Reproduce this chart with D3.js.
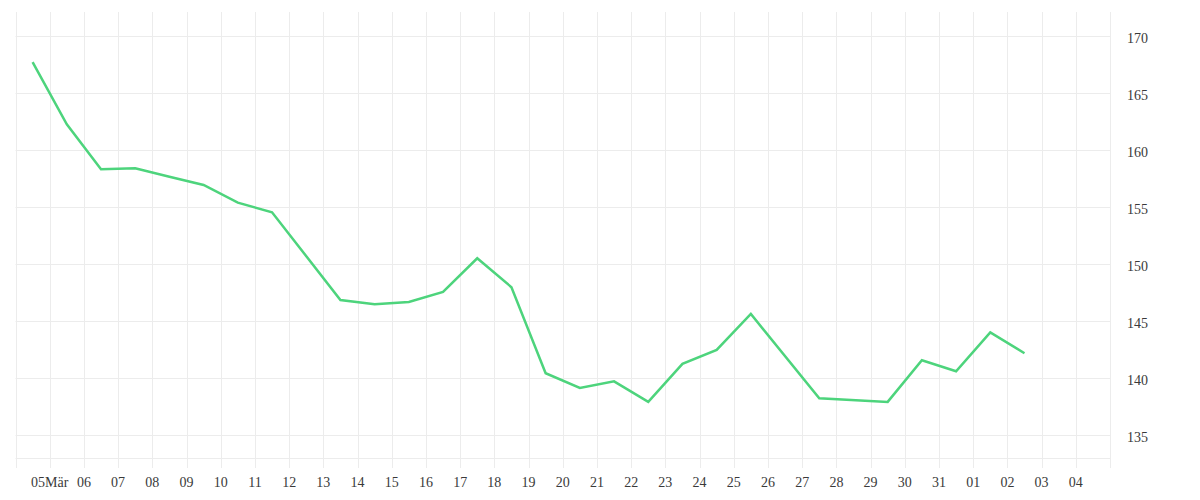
<!DOCTYPE html>
<html>
<head>
<meta charset="utf-8">
<script src="https://cdn.jsdelivr.net/npm/d3@7"></script>
<style>
  html, body { margin: 0; padding: 0; background: #fff; }
  svg { display: block; }
</style>
</head>
<body>
<svg id="chart" width="1200" height="500"></svg>
<script>
// ---- data ----
const dates = [
  "2024-03-04","2024-03-05","2024-03-06","2024-03-07","2024-03-08","2024-03-09",
  "2024-03-10","2024-03-11","2024-03-13","2024-03-14","2024-03-15",
  "2024-03-16","2024-03-17","2024-03-18","2024-03-19","2024-03-20","2024-03-21",
  "2024-03-22","2024-03-23","2024-03-24","2024-03-25","2024-03-27",
  "2024-03-29","2024-03-30","2024-03-31","2024-04-01","2024-04-02"
];
const values = [
  167.7, 162.25, 158.3, 158.4, 157.65, 156.93,
  155.38, 154.53, 146.84, 146.46, 146.67,
  147.54, 150.5, 147.96, 140.41, 139.12, 139.7,
  137.9, 141.23, 142.46, 145.61, 138.22,
  137.9, 141.55, 140.59, 144.0, 142.17
];
const yTickValues = [135, 140, 145, 150, 155, 160, 165, 170];
const yExtraGrid = [133];
const xStart = "2024-03-04";
const xEnd = "2024-04-05";
const yDomain = [132.1, 172.1];

(function () {
  const FONT = "'Liberation Serif', 'Times New Roman', Times, serif";
  const svg = d3.select("#chart");
  const mLeft = 15.5, mRight = 1110, mTop = 12, mBottom = 468;

  const parse = d3.utcParse("%Y-%m-%d");
  const data = dates.map((d, i) => ({ date: d3.utcHour.offset(parse(d), 12), value: values[i] }));

  const x = d3.scaleUtc().domain([parse(xStart), parse(xEnd)]).range([mLeft, mRight]);
  const y = d3.scaleLinear().domain(yDomain).range([mBottom, mTop]);

  const days = d3.utcDay.range(parse(xStart), d3.utcDay.offset(parse(xEnd), 1));

  // vertical grid
  svg.append("g").selectAll("line").data(days).join("line")
    .attr("x1", d => Math.round(x(d)) + 0.5).attr("x2", d => Math.round(x(d)) + 0.5)
    .attr("y1", mTop).attr("y2", mBottom)
    .attr("stroke", "#ececec").attr("stroke-width", 1);

  // horizontal grid
  svg.append("g").selectAll("line").data(yTickValues.concat(yExtraGrid)).join("line")
    .attr("x1", mLeft).attr("x2", mRight)
    .attr("y1", d => Math.round(y(d)) + 0.5).attr("y2", d => Math.round(y(d)) + 0.5)
    .attr("stroke", "#ececec").attr("stroke-width", 1);

  // x labels (skip first day at the left edge and the closing edge)
  const labelDays = days.slice(1, days.length - 1);
  const fmtDay = d3.utcFormat("%d");
  svg.append("g").selectAll("text").data(labelDays).join("text")
    .attr("x", d => x(d))
    .attr("y", 487)
    .attr("text-anchor", "middle")
    .attr("font-family", FONT).attr("font-size", 14).attr("fill", "#3a3a3a")
    .text((d, i) => i === 0 ? fmtDay(d) + "Mär" : fmtDay(d));

  // y labels on the right
  svg.append("g").selectAll("text").data(yTickValues).join("text")
    .attr("x", 1127)
    .attr("y", d => y(d) + 2)
    .attr("dy", "0.35em")
    .attr("text-anchor", "start")
    .attr("font-family", FONT).attr("font-size", 14).attr("fill", "#3a3a3a")
    .text(d => d);

  // line
  const line = d3.line().x(d => x(d.date)).y(d => y(d.value));
  svg.append("path").datum(data)
    .attr("d", line)
    .attr("fill", "none")
    .attr("stroke", "#4dd47c")
    .attr("stroke-width", 2.5)
    .attr("stroke-linejoin", "miter");
})();
</script>
</body>
</html>
